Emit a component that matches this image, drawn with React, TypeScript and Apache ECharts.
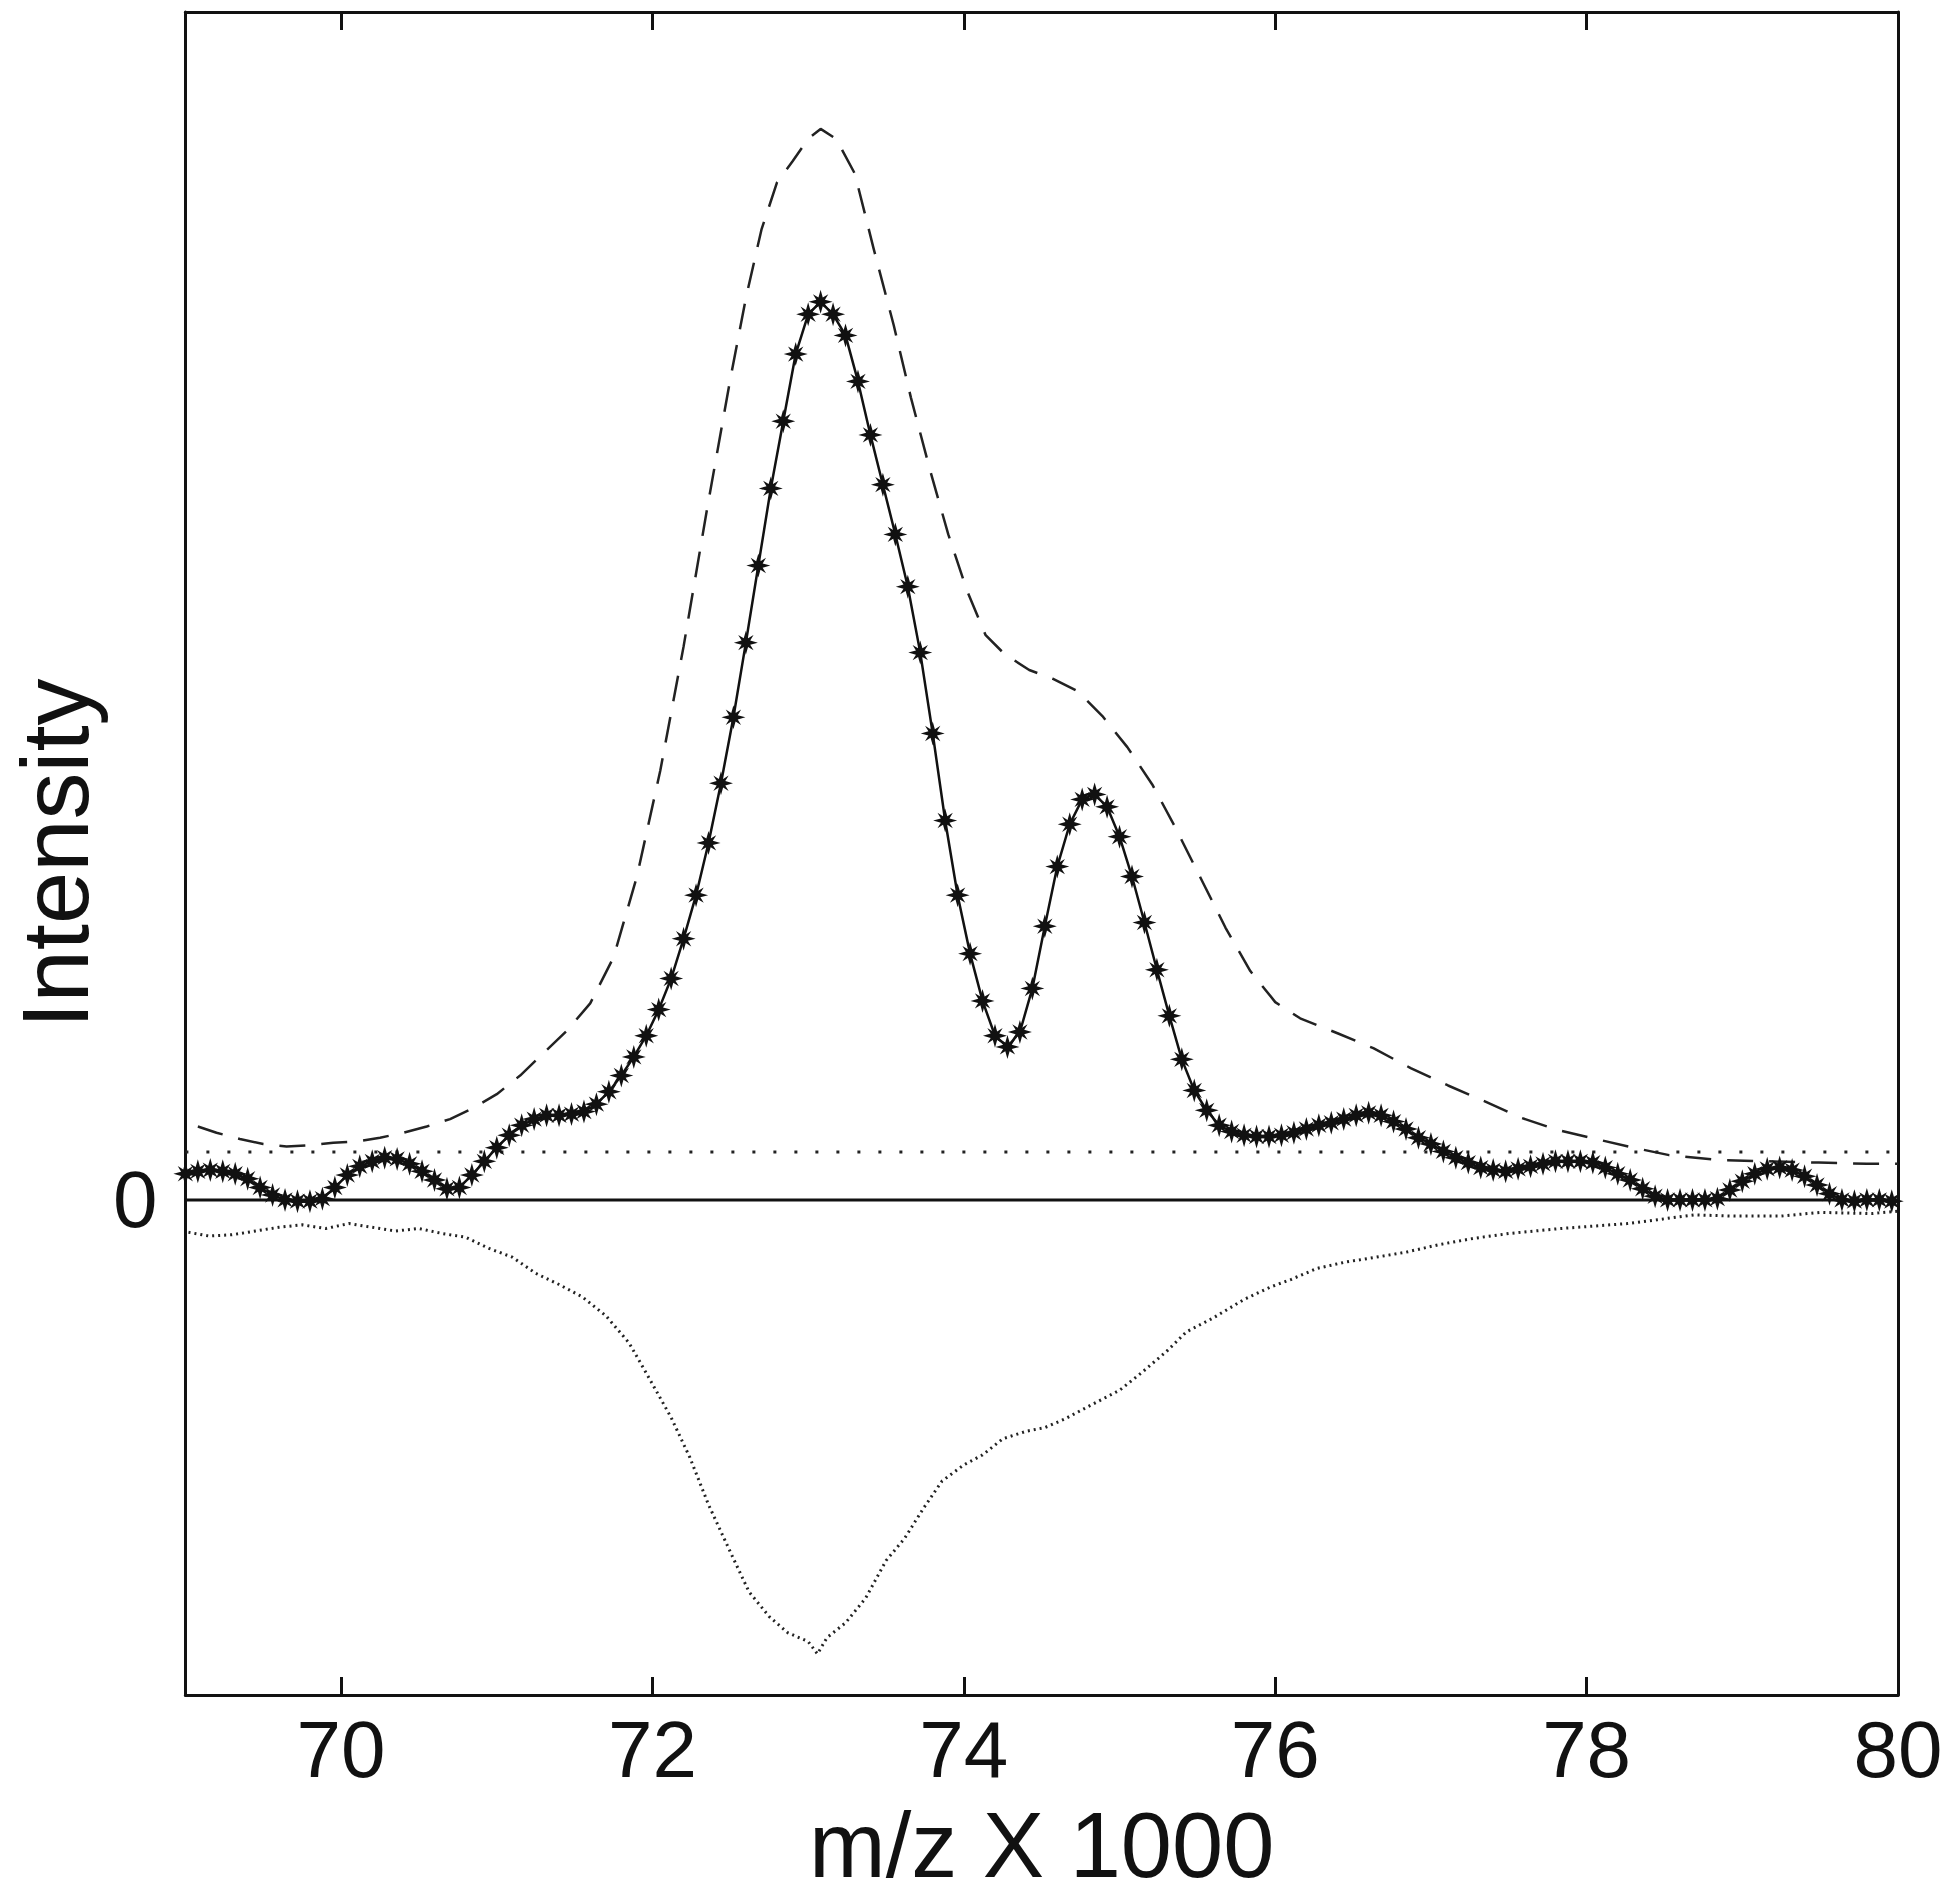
import React, { useEffect, useRef } from "react";
import * as echarts from "echarts";

// ---- data (m/z in thousands, intensity in arbitrary units) ----
const mzMain = [
  69.0, 69.08, 69.16, 69.24, 69.32, 69.4, 69.48, 69.56, 69.64, 69.72, 69.8, 69.88, 69.96,
  70.04, 70.12, 70.2, 70.28, 70.36, 70.44, 70.52, 70.6, 70.68, 70.76, 70.84, 70.92,
  71.0, 71.08, 71.16, 71.24, 71.32, 71.4, 71.48, 71.56, 71.64, 71.72, 71.8, 71.88, 71.96,
  72.04, 72.12, 72.2, 72.28, 72.36, 72.44, 72.52, 72.6, 72.68, 72.76, 72.84, 72.92,
  73.0, 73.08, 73.16, 73.24, 73.32, 73.4, 73.48, 73.56, 73.64, 73.72, 73.8, 73.88, 73.96,
  74.04, 74.12, 74.2, 74.28, 74.36, 74.44, 74.52, 74.6, 74.68, 74.76, 74.84, 74.92,
  75.0, 75.08, 75.16, 75.24, 75.32, 75.4, 75.48, 75.56, 75.64, 75.72, 75.8, 75.88, 75.96,
  76.04, 76.12, 76.2, 76.28, 76.36, 76.44, 76.52, 76.6, 76.68, 76.76, 76.84, 76.92,
  77.0, 77.08, 77.16, 77.24, 77.32, 77.4, 77.48, 77.56, 77.64, 77.72, 77.8, 77.88, 77.96,
  78.04, 78.12, 78.2, 78.28, 78.36, 78.44, 78.52, 78.6, 78.68, 78.76, 78.84, 78.92,
  79.0, 79.08, 79.16, 79.24, 79.32, 79.4, 79.48, 79.56, 79.64, 79.72, 79.8, 79.88, 79.96,
];
const intensityMain = [
  2.1, 2.3, 2.4, 2.3, 2.1, 1.7, 1.0, 0.4, 0.0, -0.1, -0.1, 0.1, 1.0,
  2.0, 2.7, 3.1, 3.4, 3.3, 2.9, 2.3, 1.6, 0.9, 1.0, 2.0, 3.1,
  4.2, 5.2, 6.0, 6.5, 6.8, 6.8, 6.9, 7.1, 7.7, 8.7, 10.0, 11.5, 13.2,
  15.3, 17.8, 21.0, 24.5, 28.7, 33.5, 38.8, 44.8, 51.0, 57.2, 62.6, 68.0,
  71.2, 72.2, 71.2, 69.5, 65.8, 61.5, 57.5, 53.5, 49.3, 44.0, 37.5, 30.5, 24.5,
  19.8, 16.0, 13.2, 12.3, 13.5, 17.0, 22.0, 26.8, 30.2, 32.2, 32.6, 31.6,
  29.2, 26.0, 22.3, 18.5, 14.8, 11.3, 8.8, 7.2, 6.0, 5.5, 5.2, 5.1, 5.1,
  5.2, 5.4, 5.7, 6.0, 6.2, 6.5, 6.8, 7.0, 6.8, 6.3, 5.7, 5.0,
  4.5, 3.9, 3.4, 3.0, 2.6, 2.4, 2.3, 2.5, 2.7, 2.9, 3.1, 3.1, 3.1,
  3.0, 2.6, 2.1, 1.6, 0.9, 0.3, 0.0, 0.0, 0.0, 0.0, 0.1, 0.8,
  1.5, 2.1, 2.5, 2.6, 2.4, 1.9, 1.2, 0.5, 0.0, -0.1, 0.0, 0.0, -0.1,
];

const mzEnvelope = [
  69.08, 69.2, 69.35, 69.5, 69.65, 69.8, 69.95, 70.1, 70.25, 70.4, 70.55, 70.7, 70.85,
  71.0, 71.15, 71.3, 71.45, 71.6, 71.75, 71.9, 72.05, 72.2, 72.35, 72.5, 72.6, 72.7,
  72.8, 72.9, 73.0, 73.08, 73.18, 73.3, 73.42, 73.55, 73.66, 73.78, 73.9, 74.02, 74.14,
  74.26, 74.42, 74.57, 74.73, 74.89, 75.05, 75.21, 75.36, 75.52, 75.68, 75.84, 76.0,
  76.16, 76.4, 76.63, 76.87, 77.11, 77.35, 77.58, 77.82, 78.06, 78.3, 78.53, 78.85,
  79.17, 79.49, 79.8, 80.0,
];
const intensityEnvelope = [
  5.9, 5.4, 4.9, 4.5, 4.3, 4.4, 4.6, 4.7, 5.0, 5.4, 5.9, 6.5, 7.4,
  8.5, 10.0, 11.8, 13.6, 15.8, 19.5, 26.0, 34.5, 44.5, 55.5, 66.0, 72.5, 78.0,
  81.8, 83.5, 85.3, 86.1, 85.3, 82.5, 76.5, 70.3, 64.5, 58.8, 53.5, 49.0, 45.4,
  43.9, 42.6, 41.9, 40.9, 38.9, 36.4, 33.4, 29.9, 25.9, 21.9, 18.4, 15.9,
  14.6, 13.4, 12.2, 10.6, 9.2, 7.9, 6.6, 5.6, 4.9, 4.2, 3.6, 3.2,
  3.1, 3.0, 2.9, 2.9,
];

const mzNoise = [
  69.02, 69.15, 69.3, 69.45, 69.6, 69.75, 69.9, 70.05, 70.2, 70.35, 70.5, 70.65, 70.8,
  70.95, 71.1, 71.25, 71.4, 71.55, 71.7, 71.85, 72.0, 72.12, 72.24, 72.36, 72.5, 72.62,
  72.75, 72.87, 73.0, 73.06, 73.12, 73.24, 73.37, 73.5, 73.62, 73.74, 73.86, 74.0,
  74.12, 74.25, 74.4, 74.52, 74.65, 74.8, 75.0, 75.15, 75.3, 75.43, 75.6, 75.8, 75.97,
  76.1, 76.27, 76.45, 76.65, 76.84, 77.05, 77.27, 77.5, 77.83, 78.05, 78.26, 78.45,
  78.69, 78.95, 79.25, 79.5, 79.83, 80.0,
];
const intensityNoise = [
  -2.6, -2.9, -2.8, -2.5, -2.2, -2.0, -2.3, -1.9, -2.2, -2.5, -2.3, -2.7, -3.0,
  -3.9, -4.6, -5.9, -6.8, -7.8, -9.3, -11.5, -14.8, -17.5, -20.7, -24.5, -28.3, -31.5,
  -33.5, -34.8, -35.5, -36.5, -35.2, -34.0, -32.0, -29.0, -27.2, -24.8, -22.6, -21.3,
  -20.5, -19.2, -18.6, -18.3, -17.6, -16.6, -15.3, -13.8, -12.2, -10.6, -9.5, -8.0, -7.0,
  -6.4, -5.5, -5.0, -4.6, -4.2, -3.6, -3.1, -2.7, -2.3, -2.1, -1.9, -1.6,
  -1.2, -1.3, -1.3, -1.0, -1.1, -0.9,
];

const thresholdLevel = 3.85;
const xTickValues = [70, 72, 74, 76, 78, 80];
const yTickValues = [0];
const xRange = [69, 80];
const yRange = [-39.8, 95.5];

const FONT = "'Liberation Sans', Arial, Helvetica, sans-serif";
const INK = "#111111";

// filled 8-spike star with a fat diamond body (MATLAB '*' as rasterised)
const STAR =
  "path://M20 10 L13.6 11.8 L16.4 16.4 L11.8 13.6 L10 20 L8.2 13.6 L3.6 16.4 L6.4 11.8 L0 10 L6.4 8.2 L3.6 3.6 L8.2 6.4 L10 0 L11.8 6.4 L16.4 3.6 L13.6 8.2 Z";

const zip = (xs: number[], ys: number[]) => xs.map((x, i) => [x, ys[i]]);

export default function App() {
  const ref = useRef<HTMLDivElement>(null);

  useEffect(() => {
    if (!ref.current) return;
    const chart = echarts.init(ref.current, undefined, { renderer: "svg" });

    const frameAxisLine = { show: true, onZero: false, lineStyle: { color: INK, width: 3 } };

    chart.setOption({
      animation: false,
      backgroundColor: "#ffffff",
      grid: { left: 170, right: 52, top: 12, bottom: 209, containLabel: false },
      xAxis: [
        {
          type: "value",
          position: "bottom",
          min: xRange[0],
          max: xRange[1],
          axisLine: frameAxisLine,
          axisTick: {
            show: true,
            inside: true,
            length: 18,
            customValues: xTickValues,
            lineStyle: { color: INK, width: 3 },
          },
          axisLabel: {
            show: true,
            customValues: xTickValues,
            margin: 14,
            fontSize: 80,
            fontFamily: FONT,
            color: INK,
            formatter: (v: number) => String(v),
          },
          splitLine: { show: false },
          name: "m/z X 1000",
          nameLocation: "middle",
          nameGap: 104,
          nameTextStyle: { fontSize: 92, fontFamily: FONT, color: INK },
        },
        {
          type: "value",
          position: "top",
          min: xRange[0],
          max: xRange[1],
          axisLine: frameAxisLine,
          axisTick: {
            show: true,
            inside: true,
            length: 18,
            customValues: xTickValues,
            lineStyle: { color: INK, width: 3 },
          },
          axisLabel: { show: false },
          splitLine: { show: false },
        },
      ],
      yAxis: [
        {
          type: "value",
          position: "left",
          min: yRange[0],
          max: yRange[1],
          axisLine: frameAxisLine,
          axisTick: { show: false },
          axisLabel: {
            show: true,
            customValues: yTickValues,
            margin: 28,
            fontSize: 80,
            fontFamily: FONT,
            color: INK,
            formatter: (v: number) => String(v),
          },
          splitLine: { show: false },
          name: "Intensity",
          nameLocation: "middle",
          nameRotate: 90,
          nameGap: 76,
          nameTextStyle: { fontSize: 94, fontFamily: FONT, color: INK },
        },
        {
          type: "value",
          position: "right",
          min: yRange[0],
          max: yRange[1],
          axisLine: frameAxisLine,
          axisTick: { show: false },
          axisLabel: { show: false },
          splitLine: { show: false },
        },
      ],
      series: [
        {
          name: "noise",
          type: "line",
          data: zip(mzNoise, intensityNoise),
          symbol: "none",
          lineStyle: { color: "#222222", width: 3, type: [2, 4] },
          z: 2,
        },
        {
          name: "threshold",
          type: "line",
          data: [
            [xRange[0], thresholdLevel],
            [xRange[1], thresholdLevel],
          ],
          symbol: "none",
          lineStyle: { color: "#222222", width: 3, type: [3, 18] },
          z: 2,
        },
        {
          name: "envelope",
          type: "line",
          data: zip(mzEnvelope, intensityEnvelope),
          symbol: "none",
          lineStyle: { color: "#222222", width: 2.5, type: [26, 16] },
          z: 3,
        },
        {
          name: "zero",
          type: "line",
          data: [
            [xRange[0], 0],
            [xRange[1], 0],
          ],
          symbol: "none",
          lineStyle: { color: INK, width: 3 },
          z: 3,
        },
        {
          name: "spectrum",
          type: "line",
          data: zip(mzMain, intensityMain),
          symbol: STAR,
          symbolSize: 24,
          showAllSymbol: true,
          itemStyle: { color: INK, borderWidth: 0 },
          lineStyle: { color: INK, width: 2.5 },
          z: 5,
        },
      ],
    });

    return () => chart.dispose();
  }, []);

  return (
    <div
      ref={ref}
      style={{ position: "absolute", left: 0, top: 0, width: 1950, height: 1904, background: "#fff" }}
    />
  );
}
